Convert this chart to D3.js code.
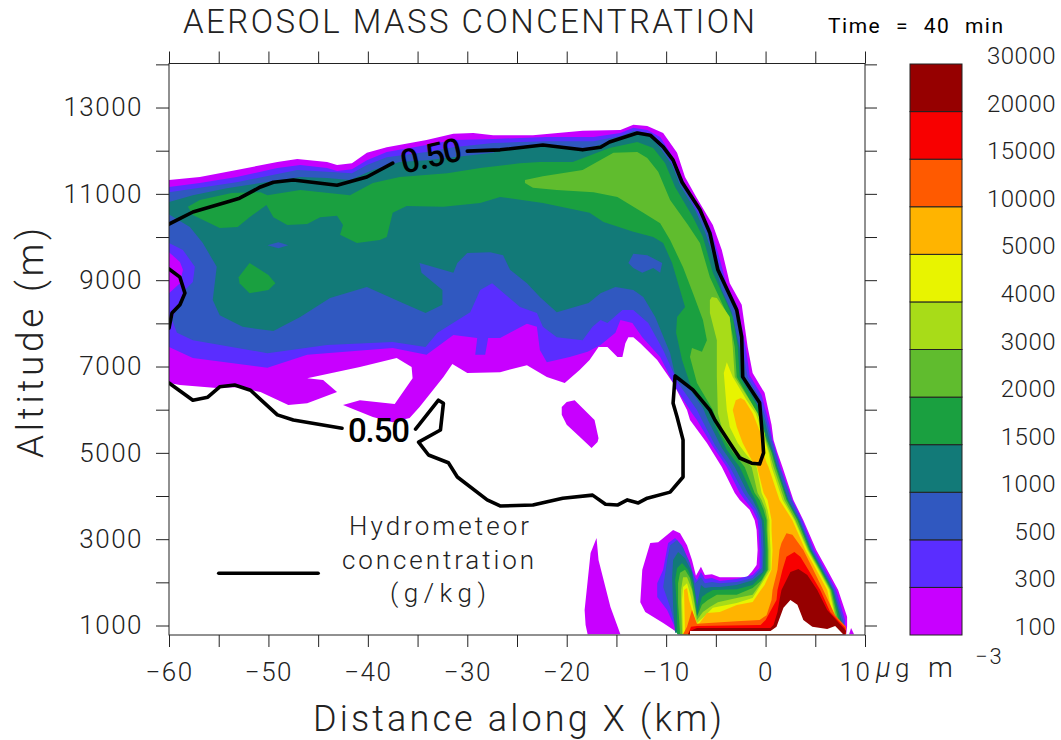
<!DOCTYPE html>
<html><head><meta charset="utf-8">
<script src="https://cdn.jsdelivr.net/npm/d3@7/dist/d3.min.js"></script>
<style>
html,body{margin:0;padding:0;background:#fff}
svg{display:block}
text{font-family:Roboto,"Liberation Sans",sans-serif;font-weight:300;fill:#222}
.axis path{display:none}
.axis line{stroke:#222;stroke-width:1}
</style></head><body><svg id="c" width="1061" height="740"></svg>
<script>
// Contour level boundaries, aerosol mass concentration (ug m-3)
const levels=[100,300,500,1000,1500,2000,3000,4000,5000,10000,15000,20000,30000];
const palette=["#c800ff","#5a2dff","#3058c0","#127a78","#1aa040","#60bc2e","#a8dc18","#e8f400","#ffb400","#ff5a00","#f80000","#960000"];
const xTicks=[-60,-55,-50,-45,-40,-35,-30,-25,-20,-15,-10,-5,0,5,10];
const xLabels=[-60,-50,-40,-30,-20,-10,0,10];
const yTicks=[1000,2000,3000,4000,5000,6000,7000,8000,9000,10000,11000,12000,13000,14000];
const yLabels=[1000,3000,5000,7000,9000,11000,13000];
// Band outlines as [distance km, altitude m]
const band100=[[-60,11320],[-56.9,11390],[-53.2,11550],[-49.1,11740],[-47.1,11810],[-44.1,11740],[-43.1,11670],[-41.6,11710],[-40.1,11950],[-38.1,12080],[-34.1,12250],[-31.4,12390],[-29.4,12410],[-27.4,12360],[-23.4,12360],[-18.4,12460],[-14.6,12480],[-13.3,12600],[-11.9,12570],[-10.3,12410],[-8.9,11950],[-8.1,11390],[-6.9,10900],[-5.3,10280],[-4.4,9700],[-3.6,8930],[-2.4,8430],[-1.8,7450],[-1.3,6850],[-0.1,6390],[0.6,5650],[0.8,5300],[1.2,5000],[1.7,4670],[2.8,3910],[3.8,3440],[5.1,2750],[6.2,2290],[7.3,1820],[8.2,1200],[8.2,970],[8.1,800],[-8.6,800],[-10.3,1060],[-12.1,1310],[-12.6,1540],[-12.4,2290],[-11.6,2910],[-10.8,2930],[-9.3,3210],[-8.6,3140],[-7.9,2860],[-7.4,2520],[-7,2150],[-6.5,2360],[-6.1,2170],[-5.4,2190],[-4.6,2120],[-1.9,2120],[-1.4,2240],[-0.9,2400],[-0.8,2750],[-0.9,3210],[-1.1,3440],[-1.6,3680],[-2.6,3910],[-3.1,4070],[-4.4,4670],[-5.9,5230],[-7.6,5760],[-7.9,5990],[-9.3,6620],[-10.9,7150],[-12.6,7540],[-13.3,7680],[-13.8,7680],[-14.1,7540],[-14.4,7220],[-14.9,7220],[-15.9,7450],[-16.8,7450],[-17.7,7150],[-18.7,6920],[-20.2,6620],[-22,6760],[-24,7030],[-26.7,6870],[-30,6850],[-31.5,7060],[-32.4,6760],[-34.8,6060],[-35.8,5810],[-37.5,5710],[-39.5,5830],[-42.5,6110],[-40.8,6220],[-37.3,6130],[-35.5,6730],[-35.6,6990],[-37.1,7200],[-40.8,6990],[-46.1,6730],[-44.5,6690],[-43.1,6410],[-46.1,6150],[-48,6110],[-50.8,6410],[-53.2,6520],[-55.2,6500],[-58.9,6570],[-60,6620]];
const patch100a=[[-20.5,6060],[-20,6180],[-19.2,6220],[-17.2,5760],[-16.8,5340],[-16.9,5250],[-17.5,5110],[-18.7,5370],[-20,5650],[-20.5,5880]];
const patch100b=[[-17,3030],[-17.6,2680],[-18.2,1360],[-18.1,1010],[-17.9,800],[-14.6,800],[-15.6,1430],[-16.8,2520]];
const patch100c=[[8.4,800],[8.6,940],[8.9,800]];
const band300=[[-60,11160],[-56.9,11250],[-53.2,11390],[-49.1,11600],[-46.8,11670],[-44.1,11600],[-43.1,11530],[-41.6,11570],[-40.1,11780],[-38.1,11970],[-34.1,12130],[-31.4,12250],[-27.4,12270],[-22,12320],[-17.3,12320],[-14.6,12410],[-13.3,12530],[-11.9,12480],[-10.6,12320],[-9.3,11850],[-8.4,11370],[-7.3,10860],[-5.6,10230],[-4.8,9650],[-3.9,8890],[-2.8,8380],[-2,7450],[-1.6,6800],[-0.4,6340],[0.4,5650],[0.7,5300],[1.1,5000],[1.5,4670],[2.7,3910],[3.7,3440],[4.9,2750],[6,2290],[7.1,1820],[8,1130],[8,800],[-8.8,800],[-9.9,1360],[-10.9,1660],[-10.9,1980],[-10.3,2290],[-9.8,2910],[-9.1,3030],[-8.4,2860],[-7.8,2520],[-7.1,2120],[-6.9,2050],[-6.5,2240],[-6.1,2080],[-5.4,2100],[-4.6,2030],[-2.9,2080],[-1.3,2170],[-0.6,2330],[-0.6,2750],[-0.7,3210],[-0.8,3440],[-1.3,3680],[-2.1,3910],[-2.6,4070],[-3.9,4670],[-5.4,5180],[-6.9,5760],[-7.4,5920],[-9.1,6530],[-10.6,7220],[-12.4,7680],[-13.4,8010],[-14.6,8080],[-15.1,7780],[-16.6,7500],[-17.9,7340],[-19.7,7220],[-22,7100],[-22.7,7380],[-23,7920],[-24,7990],[-26.7,7660],[-27.9,7660],[-28.2,7270],[-29.2,7270],[-29,7660],[-31.4,7730],[-34.1,7270],[-37.5,7430],[-46.1,7270],[-50.1,6970],[-57.6,7200],[-60,7450]];
const band500=[[-60,11040],[-56.9,11140],[-53.2,11270],[-49.1,11460],[-47.1,11550],[-44.1,11510],[-41.6,11480],[-40.1,11670],[-38.1,11850],[-34.1,11970],[-31.4,12080],[-27.4,12180],[-24.7,12200],[-22,12220],[-17.3,12220],[-14.6,12340],[-13.3,12460],[-11.9,12410],[-10.8,12250],[-9.6,11780],[-8.6,11320],[-7.4,10810],[-5.9,10190],[-5,9610],[-4.1,8840],[-3.1,8330],[-2.3,7410],[-1.8,6760],[-0.6,6290],[0.2,5650],[0.6,5300],[1,5000],[1.4,4670],[2.6,3910],[3.5,3440],[4.7,2750],[5.8,2290],[6.9,1820],[7.9,1060],[7.9,800],[-8.9,830],[-9.6,1430],[-10.3,1890],[-9.9,2520],[-9.6,2860],[-8.9,2980],[-8.3,2800],[-7.6,2450],[-7.1,1980],[-6.5,2120],[-6.1,1980],[-5.4,2010],[-4.6,1980],[-2.9,2010],[-1.3,2100],[-0.4,2330],[-0.4,2750],[-0.5,3210],[-0.6,3440],[-1,3680],[-1.7,3910],[-2.2,4070],[-3.6,4670],[-5.1,5180],[-6.4,5760],[-6.9,5990],[-8.8,6620],[-10.3,7380],[-11.8,8010],[-13.3,8310],[-14.4,8310],[-15.9,8010],[-16.6,8080],[-17.4,7920],[-18.4,7610],[-21,7680],[-22.4,7920],[-23,8240],[-24.7,8380],[-27.5,8930],[-28.7,8770],[-29.7,8260],[-33,7780],[-34.2,7450],[-37.5,7570],[-44.1,7500],[-50.1,7310],[-57.6,7610],[-59.2,7780],[-59.7,8080],[-59.1,8430],[-58.4,8770],[-57.6,8960],[-57.4,9310],[-58.6,9700],[-60,9860]];
const band1000=[[-60,10810],[-57.6,10970],[-54.2,11130],[-50.8,11250],[-46.8,11390],[-44.1,11370],[-41.8,11320],[-39.5,11550],[-36.8,11740],[-34.1,11780],[-31.4,11850],[-27.4,11950],[-26.7,12020],[-22.4,12130],[-18.4,12020],[-15.7,12200],[-12.9,12410],[-11.6,12320],[-10.6,12060],[-9.4,11670],[-8.6,11200],[-7.1,10630],[-6.1,10120],[-5.3,9580],[-4.4,8770],[-3.4,8260],[-2.6,7410],[-2.1,6690],[-1,6220],[-0.1,5760],[0.4,5300],[0.8,5000],[1.2,4670],[2.3,3910],[3.4,3440],[4.6,2750],[5.7,2290],[6.8,1820],[7.8,970],[7.8,800],[-9.1,830],[-9.3,1430],[-9.4,2120],[-9.3,2520],[-8.8,2700],[-8.1,2560],[-7.4,2240],[-7.1,1820],[-6.9,1430],[-6.5,1940],[-6.1,1870],[-5.4,1890],[-4.6,1890],[-2.9,1940],[-1.3,2050],[-0.3,2240],[-0.2,2750],[-0.3,3210],[-0.4,3440],[-0.8,3680],[-1.3,3910],[-1.8,4070],[-3.1,4670],[-4.4,5110],[-5.8,5760],[-6.3,6040],[-7.9,6570],[-9.1,6800],[-9.6,7310],[-11.1,8150],[-12.3,8610],[-13.3,8770],[-15.1,8840],[-16.6,8700],[-17.8,8470],[-21,8260],[-22.7,8610],[-24,8930],[-25.7,9240],[-26.4,9580],[-27.7,9650],[-30,9630],[-31,9400],[-31.4,9170],[-34.8,9400],[-34.6,9170],[-32.5,8770],[-32.5,8430],[-34.2,8240],[-36.5,8470],[-40.1,8840],[-43.8,8590],[-46.8,8150],[-49.5,7820],[-52.6,7920],[-54.9,8190],[-55.6,8540],[-55.2,9310],[-56.6,9860],[-57.9,10230],[-59.9,10510],[-60,10530]];
const band1500=[[-58.1,10700],[-56.9,10860],[-53.7,11020],[-50.8,11040],[-50.1,10970],[-46.8,11090],[-41.8,10970],[-39.5,11250],[-36.8,11390],[-32,11480],[-28.7,11600],[-24.7,11710],[-22.7,11740],[-19.4,11740],[-15.7,12060],[-12.9,12200],[-11.3,12060],[-10.1,11710],[-9.1,11160],[-7.3,10460],[-6.3,10000],[-5.3,9170],[-3.3,8150],[-2.8,7450],[-2.6,6760],[-0.9,6110],[-0.4,5760],[0.2,5300],[0.7,5000],[1.1,4670],[2.2,3910],[3.3,3440],[4.5,2750],[5.6,2290],[6.7,1820],[7.7,940],[7.8,800],[-8.9,800],[-8.9,1360],[-9.1,2050],[-8.9,2330],[-8.4,2450],[-7.8,2290],[-7.3,1980],[-7,1590],[-6.9,1240],[-6.4,1660],[-5.9,1750],[-5.3,1820],[-2.9,1840],[-1.3,1940],[-0.6,2100],[0,2290],[0,2750],[-0.1,3210],[-0.2,3440],[-0.6,3680],[-1,3910],[-1.4,4070],[-2.6,4670],[-3.9,5070],[-5.1,5650],[-5.4,5920],[-7.4,6460],[-8.4,7150],[-9,7780],[-8.9,8150],[-8.1,8380],[-9.4,9400],[-10.3,9860],[-11.3,10000],[-13.3,10120],[-16.3,10350],[-17.7,10560],[-22.4,10790],[-26.7,10930],[-28.7,10790],[-32.4,10700],[-36.1,10720],[-37.5,10560],[-38.1,10000],[-38.8,9930],[-41.1,9860],[-42.8,10050],[-42.5,10280],[-43.1,10490],[-44.8,10460],[-46.1,10300],[-48.1,10280],[-49.5,10460],[-50.2,10740],[-51.9,10460],[-53.1,10230],[-54.9,10210],[-57.6,10510]];
const patch1500=[[-53,9070],[-51.9,9400],[-50,9120],[-49.3,8930],[-50,8770],[-51.9,8700],[-52.9,8930]];
const band2000=[[-24.2,11320],[-22.4,11410],[-18.4,11550],[-15.3,11950],[-12.9,11970],[-11.9,11830],[-10.8,11510],[-9.6,10860],[-7.8,10280],[-6.6,9860],[-5.6,9070],[-3.6,8080],[-3.1,7450],[-2.9,6760],[-1.3,6110],[-0.6,5760],[0.1,5300],[0.6,5000],[1,4670],[2.1,3910],[3.2,3440],[4.4,2750],[5.5,2290],[6.6,1820],[7.5,940],[7.7,800],[-8.6,800],[-8.8,1520],[-8.8,1980],[-8.6,2220],[-8.1,2290],[-7.6,2100],[-7.2,1660],[-6.9,1200],[-6.4,1480],[-5.8,1590],[-4.9,1710],[-2.9,1710],[-1.3,1870],[-0.4,2050],[0.2,2290],[0.2,2750],[0.1,3210],[0.1,3440],[-0.2,3680],[-0.6,3910],[-1.1,4070],[-2.1,4670],[-3.3,5020],[-4.4,5410],[-5.3,5990],[-6.9,6620],[-7.6,7220],[-7.4,7430],[-6.4,7340],[-5.9,7610],[-6.3,8080],[-7.3,8700],[-8.3,9300],[-9.6,9930],[-10.6,10320],[-12.3,10560],[-14.9,10930],[-17.3,11040],[-21,11090],[-23.4,11140],[-24.2,11250]];
const band3000=[[-5.4,8610],[-4.9,8590],[-3.6,8150],[-3.3,7450],[-3.1,6760],[-1.6,6220],[-0.8,5920],[-0.1,5460],[0,5300],[0.4,5000],[0.8,4670],[1.9,3910],[3,3440],[4.3,2750],[5.4,2290],[6.5,1820],[7.3,970],[7.6,800],[-8.4,800],[-8.5,1520],[-8.5,1820],[-8.3,2120],[-7.9,2120],[-7.4,1820],[-7.1,1430],[-6.9,1130],[-6.3,1310],[-5.6,1430],[-4.8,1540],[-2.9,1640],[-1.3,1710],[-0.6,1940],[0.3,2290],[0.3,2750],[0.2,3210],[0.2,3440],[0,3680],[-0.4,3910],[-0.8,4070],[-1.4,4670],[-2.8,5020],[-4.1,5340],[-4.8,5920],[-4.9,6760],[-4.9,7610],[-5.6,8240],[-5.6,8540]];
const band4000=[[-3.9,7100],[-3.3,6760],[-1.9,6220],[-1,5920],[-0.3,5460],[-0.1,5300],[0.3,5000],[0.6,4670],[1.7,3910],[2.9,3440],[4.2,2750],[5.3,2290],[6.4,1820],[7.2,970],[7.4,800],[-8.3,800],[-8.4,1590],[-8.3,1890],[-7.9,1980],[-7.5,1660],[-7.1,1200],[-6.9,1060],[-6.2,1200],[-5.3,1410],[-2.9,1520],[-1.3,1640],[-0.6,1890],[0.5,2290],[0.5,2750],[0.4,3210],[0.4,3440],[0.2,3680],[-0.1,3910],[-0.4,4070],[-0.9,4670],[-1.9,4950],[-2.8,5230],[-3.6,5600],[-3.9,5990],[-4.2,6850]];
const band5000=[[-3,6220],[-2.5,6270],[-2.1,6220],[-1.3,5920],[-0.5,5460],[-0.4,5130],[0.1,4770],[0.3,4670],[1.4,3910],[2.7,3440],[4,2750],[5.1,2290],[6.2,1820],[7,970],[7.3,800],[-8.1,800],[-8.2,1820],[-7.9,1870],[-7.7,1590],[-7.1,1130],[-6.9,970],[-5.9,1290],[-4.6,1310],[-2.9,1475],[-1.3,1545],[-0.6,1780],[-0.1,1940],[0.6,2290],[0.7,2750],[0.6,3210],[0.6,3440],[0.4,3680],[0.2,3910],[-0.2,4070],[-0.9,4720],[-1.3,4790],[-2.3,5230],[-2.9,5600],[-3.3,5990]];
const band10000=[[2.1,3140],[2.7,3100],[3.8,2750],[4.8,2290],[5.8,1820],[7,1240],[8.1,970],[8.1,800],[-8.3,800],[-7.9,970],[-7.4,1360],[-7.1,1170],[-6.9,1040],[-2.9,1100],[-0.6,1130],[0.1,1240],[0.6,1590],[0.7,1820],[1.2,2290],[1.4,2750],[1.6,2910]];
const band15000=[[2.9,2700],[3.5,2590],[4.3,2290],[5.5,1820],[6.5,1310],[8,940],[8.1,800],[-7.8,800],[-7.5,970],[-6.9,990],[-0.5,1010],[0,1130],[1.1,1590],[1.2,1820],[1.7,2290],[2.1,2590]];
const band20000=[[3.3,2310],[2.5,2240],[1.6,1820],[1.4,1590],[1.2,1310],[0.8,1010],[0.5,940],[-6.9,940],[-7.6,870],[-7.8,800],[8,800],[8.1,870],[6.2,1360],[5.2,1820],[4.2,2170]];
// Above the top level the field is left unfilled
const above30000=[[-7.6,870],[0.5,870],[1.1,970],[1.8,1410],[2.5,1590],[3.2,1480],[3.8,1130],[4.7,970],[6.2,920],[7,990],[7.8,800],[-7.6,800]];
// Enclosed local lows
const low100=[[-60,9650],[-58.9,9420],[-58.6,9240],[-58.9,8930],[-60,8700]];
const low500a=[[-50.1,9810],[-49,9880],[-48,9810],[-49,9740]];
const low500b=[[-13.8,9400],[-13.3,9610],[-11.9,9580],[-10.4,9400],[-10.6,9170],[-11.3,9280],[-12.4,9170],[-13.3,9280]];
// Hydrometeor 0.50 g/kg contour pieces
const hydroUpperA=[[-60,10300],[-57.6,10580],[-53.9,10830],[-52.9,10900],[-50.8,11160],[-49.5,11270],[-47.5,11320],[-43.1,11200],[-40.1,11390],[-37.5,11710]];
const hydroUpperB=[[-30,11990],[-26.7,12020],[-22.4,12130],[-18.4,12020],[-16.6,12080],[-15.7,12200],[-12.9,12410],[-11.6,12360],[-10.3,12090],[-9.3,11780],[-8.4,11270],[-6.6,10630],[-5.6,10090],[-4.8,9240],[-2.9,8310],[-2.4,7680],[-2.3,6760],[-0.6,6160],[-0.3,5340],[-0.2,5000],[-0.6,4740],[-1.4,4760],[-2.6,4880],[-3.6,5230],[-5.1,5760],[-5.6,5990],[-7.3,6460],[-9.1,6780],[-9.3,6150],[-8.9,5830],[-8.3,5300],[-8.3,4440],[-9.6,4090],[-11.9,3950],[-12.8,3840],[-13.9,3910],[-14.9,3790],[-16.1,3810],[-17.4,4020],[-20.4,3950],[-23.4,3790],[-26.7,3770],[-28,3910],[-31,4440],[-31.9,4770],[-33.9,4950],[-34.9,5250],[-32.7,5530],[-32.4,6150],[-32.9,6220],[-35.2,5550]];
const hydroLower=[[-42.6,5570],[-47.5,5760],[-49.1,5880],[-51.8,6450],[-53.4,6570],[-54.9,6530],[-56.1,6290],[-57.6,6220],[-60,6620]];
const hydroLeft=[[-60,9260],[-58.9,9070],[-58.4,8700],[-58.9,8430],[-59.7,8240],[-60,7890]];
const legendKey=[[-55,2210],[-45,2210]];

const svg=d3.select("#c");
const x=d3.scaleLinear().domain([-60,10]).range([169,865]);
const y=d3.scaleLinear().domain([780,14020]).range([635,63.5]);
const line=d3.line().x(d=>x(d[0])).y(d=>y(d[1]));
svg.append("clipPath").attr("id","plotclip").append("rect").attr("x",x(-60)).attr("y",y(14020)).attr("width",x(10)-x(-60)).attr("height",y(780)-y(14020));
const plot=svg.append("g").attr("clip-path","url(#plotclip)");
const fillPoly=(pts,c)=>plot.append("path").attr("d",line(pts)+"Z").attr("fill",c);
[[band100,0],[patch100a,0],[patch100b,0],[patch100c,0],[band300,1],[band500,2],[band1000,3],[band1500,4],[patch1500,4],[band2000,5],[band3000,6],[band4000,7],[band5000,8],[band10000,9],[band15000,10],[band20000,11]]
 .forEach(([p,i])=>fillPoly(p,palette[i]));
fillPoly(above30000,"#fff");
fillPoly(low100,palette[0]);fillPoly(low500a,palette[2]);fillPoly(low500b,palette[2]);
[hydroUpperA,hydroUpperB,hydroLower,hydroLeft,legendKey].forEach(p=>plot.append("path").attr("d",line(p)).attr("fill","none").attr("stroke","#000").attr("stroke-width",3.6).attr("stroke-linejoin","round").attr("stroke-linecap","round"));

// Frame and axes
const fmt=(list)=>d=>list.includes(d)?d3.format("d")(d).replace("-","\u2212"):"";
const axes=svg.append("g");
const gB=axes.append("g").attr("class","axis").attr("transform","translate(0,635)").call(d3.axisBottom(x).tickValues(xTicks).tickSize(12).tickPadding(15).tickFormat(fmt(xLabels)));
axes.append("g").attr("class","axis").attr("transform","translate(0,63.5)").call(d3.axisTop(x).tickValues(xTicks).tickSize(12).tickFormat(""));
const gL=axes.append("g").attr("class","axis").attr("transform","translate(169,0)").call(d3.axisLeft(y).tickValues(yTicks).tickSize(13).tickPadding(13).tickFormat(fmt(yLabels)));
axes.append("g").attr("class","axis").attr("transform","translate(865,0)").call(d3.axisRight(y).tickValues(yTicks).tickSize(12).tickFormat(""));
axes.append("rect").attr("x",x(-60)).attr("y",y(14020)).attr("width",x(10)-x(-60)).attr("height",y(780)-y(14020)).attr("fill","none").attr("stroke","#222");
[gB,gL].forEach(g=>g.selectAll("text").style("font-size","26px").style("font-family","Roboto").style("font-weight","300").style("letter-spacing","1.5px").attr("fill","#222"));
gB.selectAll("text").attr("dy","0.72em");
gB.selectAll("text").filter(d=>d===10).attr("dx",-10);

function txt(s,xp,yp,size,len,opt={}){
  const t=svg.append("text").attr("x",xp).attr("y",yp).style("font-size",size+"px").text(s);
  if(len)t.attr("textLength",len).attr("lengthAdjust","spacing");
  if(opt.anchor)t.attr("text-anchor",opt.anchor);
  if(opt.weight)t.style("font-weight",opt.weight);
  if(opt.rot!==undefined)t.attr("transform",`rotate(${opt.rot} ${opt.cx} ${opt.cy})`);
  if(opt.italic)t.style("font-style","italic");
  return t;
}
txt("AEROSOL MASS CONCENTRATION",183,33,33,572);
txt("Time = 40 min",828,33,21,null,{weight:400}).style("letter-spacing","1.5px").style("word-spacing","8px").style("fill","#000");
txt("Distance along X (km)",313,731,36,409);
txt("Altitude (m)",-458,43,37,230).attr("transform","rotate(-90)");
txt("Hydrometeor",349,535,26,180);
txt("concentration",342,569,26,192);
txt("(g/kg)",390,602,26,96);
txt("0.50",348,442,33,62,{weight:500}).style("fill","#000");
txt("0.50",400,167,33,62,{weight:500,rot:-13,cx:431,cy:155}).style("fill","#000");

// Colour bar
const cb=d3.scaleLinear().domain([0,12]).range([635,64]);
const bar=svg.append("g");
palette.forEach((c,i)=>bar.append("rect").attr("x",910).attr("width",52).attr("y",cb(i+1)).attr("height",cb(i)-cb(i+1)).attr("fill",c).attr("stroke","#222").attr("stroke-width",1));
levels.forEach((v,i)=>txt(String(v),1056,cb(i),24,null,{anchor:"end"}).style("letter-spacing","0.5px"));
txt("\u03bc",876,677,27,null,{italic:true});
txt("g",895,677,26,null);
txt("m",928,677,28,32);
txt("\u22123",975,664,22,null).style("letter-spacing","2px");
</script></body></html>
